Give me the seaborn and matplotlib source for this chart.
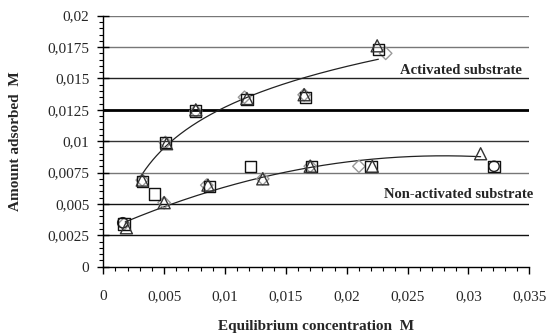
import numpy as np
import pandas as pd
import matplotlib
matplotlib.use("Agg")
import matplotlib.pyplot as plt
import seaborn as sns
from matplotlib.ticker import MultipleLocator, FuncFormatter

# --- data ---
act_diamond_x = [0.0032, 0.0051, 0.0076, 0.0116, 0.0165, 0.0232]
act_diamond_y = [0.0069, 0.0099, 0.0124, 0.0135, 0.0137, 0.0170]
act_square_x = [0.0032, 0.0051, 0.0076, 0.0118, 0.0166, 0.0226]
act_square_y = [0.0068, 0.0099, 0.0124, 0.0133, 0.0135, 0.0173]
act_triangle_x = [0.0032, 0.0052, 0.0076, 0.0118, 0.0165, 0.0225]
act_triangle_y = [0.0069, 0.0098, 0.0125, 0.0134, 0.0137, 0.0176]

non_diamond_x = [0.0017, 0.0050, 0.0085, 0.0131, 0.0170, 0.0210]
non_diamond_y = [0.0034, 0.0051, 0.0065, 0.0070, 0.0080, 0.0080]
non_square_x = [0.0017, 0.0042, 0.0087, 0.0121, 0.0171, 0.0220, 0.0321]
non_square_y = [0.0034, 0.0058, 0.0064, 0.0080, 0.0080, 0.0080, 0.0080]
non_triangle_x = [0.0019, 0.0050, 0.0086, 0.0131, 0.0170, 0.0221, 0.0310]
non_triangle_y = [0.0031, 0.0051, 0.0065, 0.0070, 0.0080, 0.0080, 0.0090]
non_circle_x = [0.0016, 0.0321]
non_circle_y = [0.0035, 0.0080]

x_ticks = [0, 0.005, 0.01, 0.015, 0.02, 0.025, 0.03, 0.035]
y_ticks = [0, 0.0025, 0.005, 0.0075, 0.01, 0.0125, 0.015, 0.0175, 0.02]

rows = []
def add(sub, kind, xs, ys):
    for a, b in zip(xs, ys):
        rows.append(dict(x=a, y=b, substrate=sub, kind=kind))
add("Activated", "diamond", act_diamond_x, act_diamond_y)
add("Activated", "square", act_square_x, act_square_y)
add("Activated", "triangle", act_triangle_x, act_triangle_y)
add("Non-activated", "diamond", non_diamond_x, non_diamond_y)
add("Non-activated", "square", non_square_x, non_square_y)
add("Non-activated", "triangle", non_triangle_x, non_triangle_y)
add("Non-activated", "circle", non_circle_x, non_circle_y)
df = pd.DataFrame(rows)

sns.set_theme(style="white")
plt.rcParams["font.family"] = ["Liberation Serif", "DejaVu Serif"]

fig = plt.figure(figsize=(5.5, 3.33), dpi=100)
ax = fig.add_axes([0.1878, 0.1991, 0.9624 - 0.1878, 0.9529 - 0.1991])

# gridlines
grid_colors = ["none", "#111111", "#111111", "#777777", "#333333", "#000000", "#222222", "#777777", "#777777"]
grid_lw = [0, 1.0, 1.0, 1.0, 1.0, 2.0, 1.0, 1.0, 1.0]
for yv, c, lw in zip(y_ticks, grid_colors, grid_lw):
    if lw > 0:
        ax.axhline(yv, color=c, lw=lw, zorder=0)

# trend curves fitted from the data
act = df[df.substrate == "Activated"]
b, a = np.polyfit(np.log(act.x), act.y, 1)
xa = np.linspace(act.x.min(), 0.0226, 200)
ax.plot(xa, a + b * np.log(xa), color="#222222", lw=0.9, zorder=1)

p = np.polyfit(non_triangle_x, non_triangle_y, 2)
xn = np.linspace(0.0018, 0.0310, 200)
ax.plot(xn, np.polyval(p, xn), color="#222222", lw=0.9, zorder=1)

markers = {"diamond": "D", "square": "s", "triangle": "^", "circle": "o"}
edge = {"diamond": "#999999", "square": "#111111", "triangle": "#333333", "circle": "#222222"}
sizes = {"diamond": 40, "square": 65, "triangle": 75, "circle": 55}
for kind in ["diamond", "circle", "square", "triangle"]:
    sub = df[df.kind == kind]
    sns.scatterplot(data=sub, x="x", y="y", marker=markers[kind], s=sizes[kind],
                    facecolor="none", edgecolor=edge[kind], linewidth=1.0,
                    ax=ax, zorder=3, legend=False)

ax.set_xlim(0, 0.035)
ax.set_ylim(0, 0.02)
ax.set_xticks(x_ticks)
ax.set_yticks(y_ticks)
ax.xaxis.set_minor_locator(MultipleLocator(0.001))
ax.yaxis.set_minor_locator(MultipleLocator(0.0005))
fmt = FuncFormatter(lambda v, pos: ("%g" % round(v, 6)).replace(".", ","))
ax.xaxis.set_major_formatter(fmt)
ax.yaxis.set_major_formatter(fmt)

for s in ["top", "right"]:
    ax.spines[s].set_visible(False)
for s in ["left", "bottom"]:
    ax.spines[s].set_color("black")
    ax.spines[s].set_linewidth(1.0)

ax.tick_params(axis="x", which="major", direction="out", length=5, width=1, color="black",
               labelsize=11, pad=12, bottom=True)
ax.tick_params(axis="x", which="minor", direction="out", length=3, width=0.8, color="black", bottom=True)
ax.tick_params(axis="y", which="major", direction="inout", length=8, width=1, color="black",
               labelsize=11, pad=6, left=True)
ax.tick_params(axis="y", which="minor", direction="out", length=3, width=0.8, color="black", left=True)

ax.set_xlabel("Equilibrium concentration  M", fontsize=11, fontweight="bold", labelpad=12)
ax.set_ylabel("Amount adsorbed  M", fontsize=11, fontweight="bold", labelpad=18)

ax.text(0.0344, 0.0156, "Activated substrate", ha="right", va="center",
        fontsize=10.5, fontweight="bold")
ax.text(0.0353, 0.00577, "Non-activated substrate", ha="right", va="center",
        fontsize=10.5, fontweight="bold", clip_on=False)

fig.savefig("out.png", dpi=100)
